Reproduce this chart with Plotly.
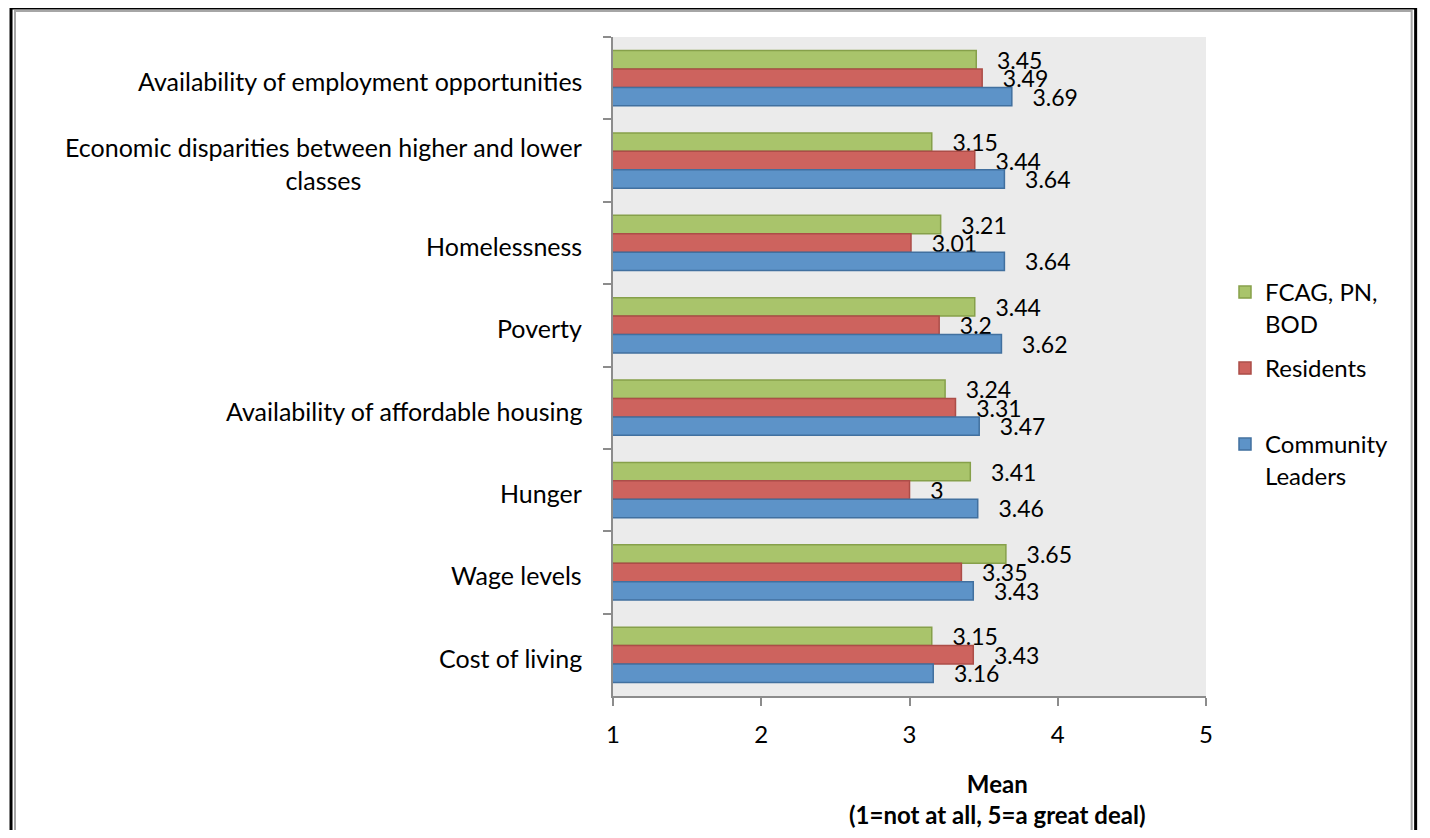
import plotly.graph_objects as go

categories = [
    "Availability of employment opportunities",
    "Economic disparities between higher and lower<br>classes",
    "Homelessness",
    "Poverty",
    "Availability of affordable housing",
    "Hunger",
    "Wage levels",
    "Cost of living",
]
fcag = [3.45, 3.15, 3.21, 3.44, 3.24, 3.41, 3.65, 3.15]
residents = [3.49, 3.44, 3.01, 3.2, 3.31, 3.0, 3.35, 3.43]
leaders = [3.69, 3.64, 3.64, 3.62, 3.47, 3.46, 3.43, 3.16]
series_names = ["FCAG, PN,<br>BOD", "Residents", "Community<br>Leaders"]
x_ticks = [1, 2, 3, 4, 5]
x_title = "<b>Mean</b><br><b>(1=not at all, 5=a great deal)</b>"

# page body has an 8px margin on every side: size the figure to fit
# inside it and work in reference pixels shifted by OFF
OFF = 8
W, H = 1430 - 2 * OFF, 838 - 2 * OFF
PL, PR, PT, PB = 613, 1210, 37, 696  # plot area in reference pixels
L, R, T, B = PL - OFF, W - (PR - OFF), PT - OFF, H - (PB - OFF)
PW, PH = PR - PL, PB - PT
FONT = "Lato"
FS = 24
FS_CAT = 25
FS_NUM = 23


def px_x(px):
    return (px - PL) / PW


def px_y(py):
    return (PB - py) / PH


fills = ["#a9c46b", "#cd635e", "#5d93c8"]
lines = ["#86a04a", "#ac4d48", "#41709f"]
values = [fcag, residents, leaders]
legend_ids = ["legend", "legend2", "legend3"]

fig = go.Figure()
for name, vals, fc, lc, lg in zip(series_names, values, fills, lines, legend_ids):
    fig.add_trace(go.Bar(
        y=categories, x=vals, base=0, orientation="h", name=name,
        marker=dict(color=fc, line=dict(color=lc, width=1.5)),
        texttemplate="\u00a0\u00a0\u00a0%{x}", textposition="outside",
        constraintext="none", cliponaxis=False,
        textfont=dict(family=FONT, size=FS_NUM, color="black"),
        legend=lg,
    ))

annotations = []
for c in categories:
    annotations.append(dict(
        x=1, y=c, xref="x", yref="y", text=c, showarrow=False,
        xanchor="right", yanchor="middle", align="center",
        xshift=-29, yshift=-3,
        font=dict(family=FONT, size=FS_CAT, color="black"),
    ))
annotations.append(dict(
    x=px_x(1000), y=px_y(799), xref="paper", yref="paper", text=x_title,
    showarrow=False, xanchor="center", yanchor="middle", align="center",
    font=dict(family=FONT, size=FS, color="black"),
))

shapes = [
    dict(type="rect", xref="paper", yref="paper",
         x0=px_x(7), x1=px_x(1421), y0=px_y(860), y1=px_y(8),
         line=dict(color="black", width=3), layer="above"),
    dict(type="rect", xref="paper", yref="paper",
         x0=px_x(11), x1=px_x(1417), y0=px_y(860), y1=px_y(11),
         line=dict(color="#a6a6a6", width=2), layer="above"),
]

legend_tops = [270, 346, 422]
leg_common = dict(
    xref="container", yref="container", xanchor="left", yanchor="top",
    font=dict(family=FONT, size=FS, color="black"), valign="top",
    bgcolor="rgba(0,0,0,0)", borderwidth=0, itemwidth=30,
)
fig.update_layout(
    width=W, height=H,
    margin=dict(l=L, r=R, t=T, b=B),
    paper_bgcolor="white", plot_bgcolor="#ebebeb",
    barmode="group", bargap=0.33, bargroupgap=0,
    font=dict(family=FONT, size=FS, color="black"),
    xaxis=dict(range=[1, 5], tickvals=x_ticks, showgrid=False, zeroline=False,
               showline=True, linecolor="#8c8c8c", linewidth=1.5,
               ticks="outside", ticklen=8, tickcolor="#8c8c8c", tickwidth=1.5,
               ticklabelstandoff=8,
               tickfont=dict(family=FONT, size=FS, color="black")),
    yaxis=dict(autorange="reversed", showticklabels=False, showgrid=False,
               showline=True, linecolor="#8c8c8c", linewidth=1.5,
               ticks="outside", ticklen=8, tickcolor="#8c8c8c", tickwidth=1.5,
               tickson="boundaries"),
    annotations=annotations,
    shapes=shapes,
    showlegend=True,
)
for lg, top in zip(legend_ids, legend_tops):
    fig.update_layout({lg: dict(x=(1225 - OFF) / W, y=1 - (top - OFF) / H, **leg_common)})

fig.write_html("out.html")
